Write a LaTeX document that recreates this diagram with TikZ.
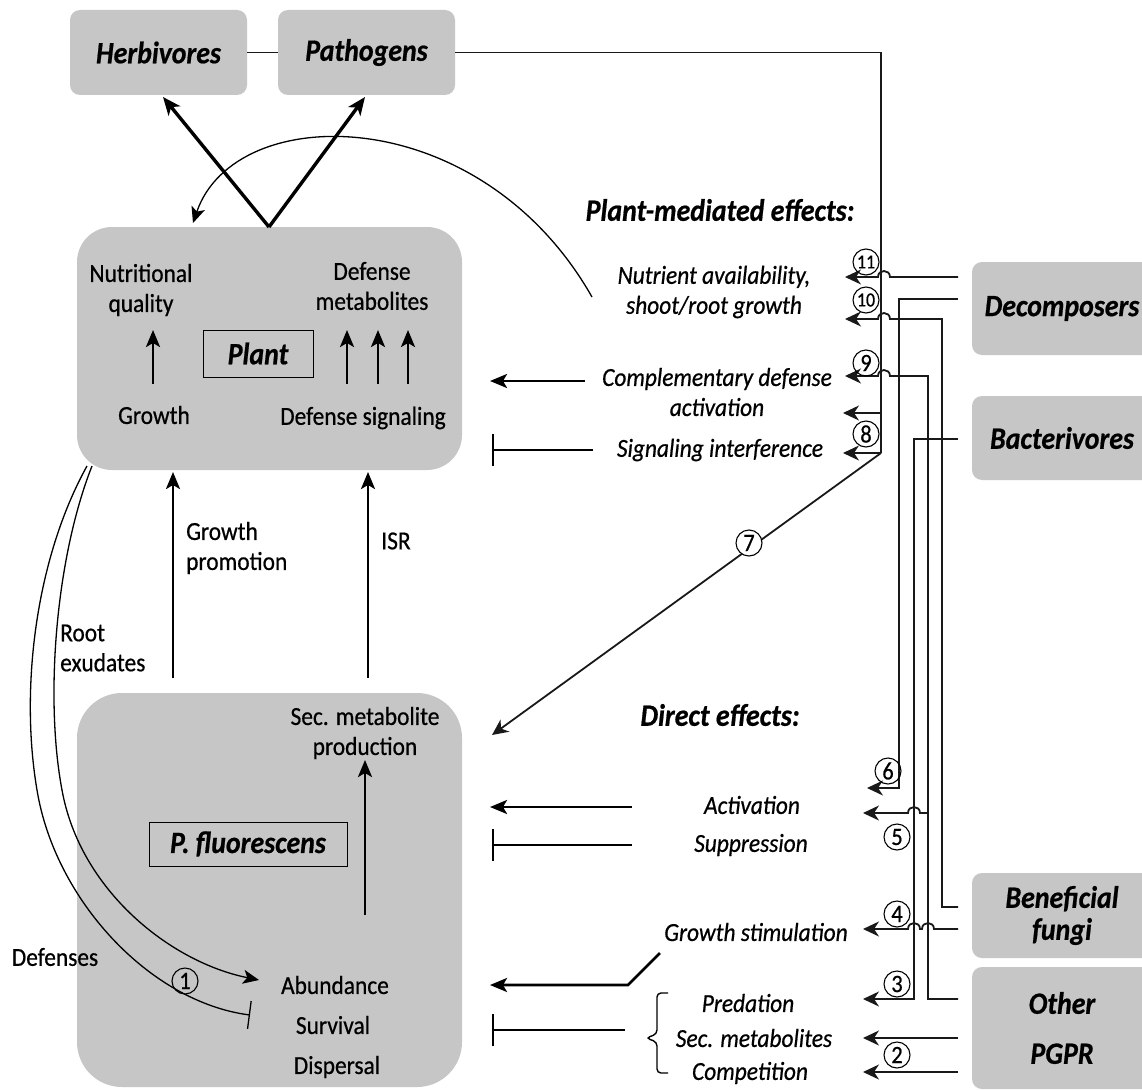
\documentclass[tikz,border=0pt]{standalone}
\usepackage{fontspec}
\setmainfont{Carlito}[FakeStretch=0.9, FakeBold=0.6]
\usetikzlibrary{arrows.meta}
\definecolor{boxgray}{RGB}{198,198,198}
\tikzset{
 gbox/.style={fill=boxgray, rounded corners=10pt, inner sep=0pt},
 blabel/.style={font=\fontsize{31}{34}\selectfont\bfseries\itshape, align=center, inner sep=0pt},
 txt/.style={font=\fontsize{26}{30}\selectfont, align=center, inner sep=0pt},
 itxt/.style={font=\fontsize{26}{30}\selectfont\itshape, align=center, inner sep=0pt},
 conn/.style={line width=1.8pt, draw=black!90},
 arr/.style={conn, -{Stealth[length=16pt,width=15pt,inset=5pt]}},
 bigarr/.style={line width=2.6pt, -{Stealth[length=17pt,width=14pt,inset=4pt]}},
 thickarr/.style={line width=3.4pt, -{Stealth[length=18pt,width=15pt,inset=5pt]}},
 inh/.style={line width=2pt, -{Bar[width=32pt]}},
 curv/.style={line width=1.3pt},
 num/.style={circle, draw, line width=1.1pt, inner sep=0pt, minimum size=26pt, font=\fontsize{25}{25}\selectfont},
 num2/.style={num, font=\fontsize{20}{20}\selectfont},
}
\begin{document}
\begin{tikzpicture}[x=1pt,y=-1pt]
\clip (0,0) rectangle (1142,1089);
\fill[white] (0,0) rectangle (1142,1089);

% ---------- boxes ----------
\node[gbox, blabel, minimum width=177pt, minimum height=85pt] (herb) at (158.5,52.5) {Herbivores};
\node[gbox, blabel, minimum width=177pt, minimum height=85pt] (path) at (366.5,52.5) {Pathogens};
\node[gbox, rounded corners=35pt, minimum width=385pt, minimum height=243pt] (plant) at (269.5,348.5) {};
\node[gbox, rounded corners=45pt, minimum width=385pt, minimum height=394pt] (pf) at (269.5,890) {};
\node[gbox, blabel, minimum width=180pt, minimum height=93pt] (dec) at (1062,308.5) {Decomposers};
\node[gbox, blabel, minimum width=180pt, minimum height=84pt] (bac) at (1062,438) {Bacterivores};
\node[gbox, blabel, minimum width=180pt, minimum height=85pt] (fun) at (1062,915.5) {Beneficial\\[-2pt]fungi};
\node[gbox, blabel, minimum width=180pt, minimum height=122pt, font=\fontsize{31}{50}\selectfont\bfseries\itshape] (pgpr) at (1062,1028) {Other\\PGPR};

% ---------- plant contents ----------
\node[txt] (nq) at (141,290) {Nutritional\\quality};
\node[txt] (gr) at (154,415) {Growth};
\node[draw, line width=1pt, blabel, minimum width=110pt, minimum height=47pt] (plantlbl) at (258,353.5) {Plant};
\node[txt] (dm) at (372,286) {Defense\\metabolites};
\node[txt] (ds) at (363,418) {Defense signaling};
\coordinate (g1) at (153,384); \coordinate (g2) at (153,330);
\draw[bigarr] (g1) -- (g2);
\foreach \xx/\nm in {347/a,378/b,408/c}{
  \coordinate (d1\nm) at (\xx,384); \coordinate (d2\nm) at (\xx,330);
  \draw[bigarr] (d1\nm) -- (d2\nm);
}

% ---------- P. fluorescens contents ----------
\node[txt] (smp) at (365,733) {Sec. metabolite\\production};
\node[draw, line width=1pt, blabel, minimum width=198pt, minimum height=44pt] (pflbl) at (248,844) {P. fluorescens};
\node[txt] (abu) at (335,985) {Abundance};
\node[txt] (sur) at (333,1025) {Survival};
\node[txt] (dis) at (337,1067) {Dispersal};
\coordinate (sm1) at (365,915); \coordinate (sm2) at (365,760);
\draw[bigarr] (sm1) -- (sm2);

% ---------- herbivore / pathogen arrows ----------
\coordinate (pj) at (269,227);
\coordinate (ht) at (163,97);
\coordinate (pt) at (365,97);
\draw[thickarr] (pj) -- (ht);
\draw[thickarr] (pj) -- (pt);
\draw[conn] (herb) -- (path);

% ---------- left texts / vertical arrows ----------
\node[txt, align=left, anchor=west] (rex) at (60,648) {Root\\exudates};
\node[txt, align=left, anchor=west] (gp) at (186,548) {Growth\\promotion};
\node[txt] (isr) at (396,541) {ISR};
\node[txt] (def) at (55,957) {Defenses};
\coordinate (gpa) at (173,678); \coordinate (gpb) at (173,472);
\coordinate (isa) at (368,678); \coordinate (isb) at (368,472);
\draw[bigarr] (gpa) -- (gpb);
\draw[bigarr] (isa) -- (isb);

% root exudate curves
\coordinate (rx1) at (92,466); \coordinate (rx1m) at (62,790); \coordinate (rx1e) at (259,980);
\coordinate (rx2) at (87,466); \coordinate (rx2m) at (37,790); \coordinate (rx2e) at (250,1015);
\draw[curv, -{Stealth[length=16pt,width=14pt,inset=4pt]}] (rx1) .. controls (55,560) and (45,700) .. (rx1m) .. controls (80,890) and (170,962) .. (rx1e);
\draw[curv, -{Bar[width=28pt]}] (rx2) .. controls (35,560) and (20,690) .. (rx2m) .. controls (55,900) and (150,1002) .. (rx2e);
\node[num] (n1) at (185,981) {1};

% top curve (nutrient -> plant)
\coordinate (tc1) at (592,297); \coordinate (tc2) at (193,223);
\draw[curv, -{Stealth[length=16pt,width=14pt,inset=4pt]}] (tc1) .. controls (480,100) and (235,100) .. (tc2);

% ---------- right-hand texts ----------
\node[blabel] (pme) at (720,210) {Plant-mediated effects:};
\node[itxt] (nut) at (714,292) {Nutrient availability,\\shoot/root growth};
\node[itxt] (cda) at (717,392) {Complementary defense\\activation};
\node[itxt] (sig) at (720,450) {Signaling interference};
\node[blabel] (dir) at (720,715) {Direct effects:};
\node[itxt] (act) at (752,805) {Activation};
\node[itxt] (sup) at (751,845) {Suppression};
\node[itxt] (gst) at (756,932) {Growth stimulation};
\node[itxt] (pre) at (748,1003) {Predation};
\node[itxt] (sec) at (754,1038) {Sec. metabolites};
\node[itxt] (com) at (750,1073) {Competition};

% arrows into plant / P. fluorescens
\coordinate (ca1) at (585,381); \coordinate (ca2) at (490,381);
\draw[bigarr] (ca1) -- (ca2);
\coordinate (si1) at (593,450); \coordinate (si2) at (492,450);
\draw[inh] (si1) -- (si2);
\coordinate (ac1) at (632,807); \coordinate (ac2) at (490,807);
\draw[bigarr] (ac1) -- (ac2);
\coordinate (su1) at (632,845); \coordinate (su2) at (492,845);
\draw[inh] (su1) -- (su2);
\coordinate (gs0) at (660,953); \coordinate (gs1) at (628,985); \coordinate (gs2) at (490,985);
\draw[bigarr] (gs0) -- (gs1) -- (gs2);
\coordinate (br1) at (625,1030); \coordinate (br2) at (492,1030);
\draw[inh] (br1) -- (br2);
% brace
\draw[line width=1.4pt, rounded corners=4pt] (668,993) -- (657,993) -- (657,1034) -- (646,1038) -- (657,1042) -- (657,1073) -- (668,1073);

% ---------- wiring on the right ----------
\coordinate (v0b) at (881,453);
\coordinate (v0m) at (881,413);
\coordinate (t11) at (845,277); \coordinate (t10) at (845,319);
\coordinate (t9) at (845,376);  \coordinate (tA) at (843,413);
\coordinate (t8) at (843,453);  \coordinate (t7) at (492,735);
\coordinate (t6) at (867,788);  \coordinate (t5) at (863,813);
\coordinate (t4) at (863,929);  \coordinate (t3) at (863,999);
\coordinate (t2a) at (863,1038); \coordinate (t2b) at (863,1072);
\coordinate (s11) at (958,277); \coordinate (sD2) at (958,299);
\coordinate (sB) at (958,439);  \coordinate (sF1) at (958,907);
\coordinate (sF2) at (958,929); \coordinate (sP1) at (958,999);
\coordinate (sP2) at (958,1038); \coordinate (sP3) at (958,1072);
\coordinate (j5) at (928,813);

% pathogens line
\draw[conn] (path.east) -| (v0b);
\draw[arr] (v0m) -- (tA);
\draw[arr] (v0b) -- (t8);
\draw[arr] (v0b) -- (t7);
% 11
\draw[arr] (s11) -- (890,277) .. controls (890,269) and (878,269) .. (878,277) -- (t11);
% decomposers -> 6
\draw[arr] (sD2) -| (899,788) -- (t6);
% fungi -> 10
\draw[arr] (sF1) -| (942,319) -- (890,319) .. controls (890,311) and (878,311) .. (878,319) -- (t10);
% pgpr -> 9 and 5
\draw[arr] (sP1) -| (928,376) -- (890,376) .. controls (890,368) and (878,368) .. (878,376) -- (t9);
\draw[arr] (j5) -- (920,813) .. controls (920,805) and (908,805) .. (908,813) -- (t5);
% bacterivores -> 3
\draw[arr] (sB) -| (914,999) -- (t3);
% fungi -> 4
\draw[arr] (sF2) -- (934,929) .. controls (934,921) and (922,921) .. (922,929) -- (920,929) .. controls (920,921) and (908,921) .. (908,929) -- (t4);
% pgpr -> 2
\draw[arr] (sP2) -- (t2a);
\draw[arr] (sP3) -- (t2b);

% numbers
\node[num2] (n11) at (866,262) {11};
\node[num2] (n10) at (866,300) {10};
\node[num] (n9) at (866,363) {9};
\node[num] (n8) at (866,434) {8};
\node[num, fill=white] (n7) at (749,543) {7};
\node[num] (n6) at (888,771) {6};
\node[num] (n5) at (897,837) {5};
\node[num] (n4) at (897,914) {4};
\node[num] (n3) at (897,984) {3};
\node[num] (n2) at (897,1055) {2};
\end{tikzpicture}
\end{document}
